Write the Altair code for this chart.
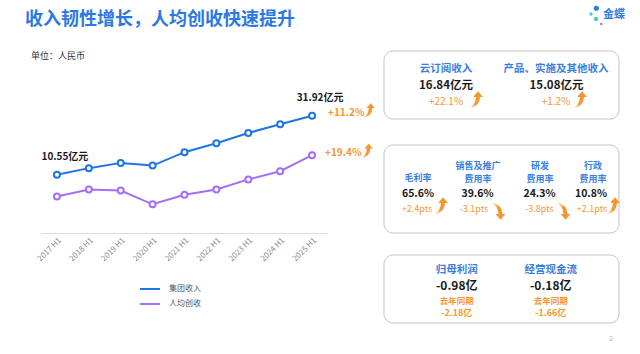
import altair as alt
import pandas as pd

FONT = "Noto Sans CJK SC"
BLUE = "#1f75e6"
PURPLE = "#a46ff6"
ORANGE = "#f7962f"
LABEL_BLUE = "#3a7fe0"
DARK = "#1a1a1a"

# ---------------- data ----------------
periods = ["2017 H1", "2018 H1", "2019 H1", "2020 H1", "2021 H1",
           "2022 H1", "2023 H1", "2024 H1", "2025 H1"]
group_revenue = [10.55, 12.97, 14.87, 13.90, 18.73, 21.97, 25.68, 28.82, 31.92]  # 亿元
per_capita = [17.4, 19.5, 19.2, 15.0, 17.9, 19.5, 22.6, 25.1, 30.0]              # 万元 (est.)
series_names = ["集团收入", "人均创收"]
end_labels = ["10.55亿元", "31.92亿元"]
growth = ["+11.2%", "+19.4%"]

rev_titles = ["云订阅收入", "产品、实施及其他收入"]
rev_values = ["16.84亿元", "15.08亿元"]
rev_growth = ["+22.1%", "+1.2%"]

ratio_titles = [["毛利率"], ["销售及推广", "费用率"], ["研发", "费用率"], ["行政", "费用率"]]
ratio_values = ["65.6%", "39.6%", "24.3%", "10.8%"]
ratio_change = ["+2.4pts", "-3.1pts", "-3.8pts", "+2.1pts"]
ratio_up = [True, False, False, True]

profit_titles = ["归母利润", "经营现金流"]
profit_values = ["-0.98亿", "-0.18亿"]
prior_label = "去年同期"
profit_prior = ["-2.18亿", "-1.66亿"]

title_text = "收入韧性增长，人均创收快速提升"
unit_text = "单位：人民币"
logo_text = "金蝶"
page_no = "2"

# ---------------- layout (pixels) ----------------
OX, OY = 41, 80          # plot-area origin
PW, PH = 287, 153        # plot-area size

UP = "M -0.75 1 Q 0.05 0.6 0.12 -0.35 L -0.22 -0.35 L 0.35 -1 L 0.92 -0.35 L 0.58 -0.35 Q 0.55 0.8 -0.75 1 Z"
DOWN = "M -0.75 -1 Q 0.05 -0.6 0.12 0.35 L -0.22 0.35 L 0.35 1 L 0.92 0.35 L 0.58 0.35 Q 0.55 -0.8 -0.75 -1 Z"
GRAD_UP = alt.LinearGradient(gradient="linear", x1=0, y1=1, x2=0.5, y2=0,
                             stops=[alt.GradientStop(color="#fff3e4", offset=0),
                                    alt.GradientStop(color=ORANGE, offset=0.45)])
GRAD_DOWN = alt.LinearGradient(gradient="linear", x1=0, y1=0, x2=0.5, y2=1,
                               stops=[alt.GradientStop(color="#fff3e4", offset=0),
                                      alt.GradientStop(color=ORANGE, offset=0.45)])


def PX(name):
    return alt.X(f"{name}:Q", scale=None, axis=None)


def PY(name):
    return alt.Y(f"{name}:Q", scale=None, axis=None)


def txt(items, size, color, weight="normal", align="center"):
    d = pd.DataFrame([{"t": t, "x": x - OX, "y": y - OY} for t, x, y in items])
    return alt.Chart(d).mark_text(
        font=FONT, fontSize=size, color=color, fontWeight=weight,
        align=align, baseline="middle"
    ).encode(x=PX("x"), y=PY("y"), text="t:N")


def arrows(items, up, size):
    d = pd.DataFrame([{"x": x - OX, "y": y - OY} for x, y in items])
    return alt.Chart(d).mark_point(
        shape=UP if up else DOWN, size=size, filled=True,
        fill=GRAD_UP if up else GRAD_DOWN, strokeWidth=0, opacity=1
    ).encode(x=PX("x"), y=PY("y"))


# ---------------- line chart ----------------
df = pd.DataFrame({"period": periods, "rev": group_revenue, "pc": per_capita})
x_scale = alt.Scale(type="point", domain=periods, padding=0.5)
x_axis = alt.Axis(title=None, labelAngle=315, labelFont=FONT, labelFontSize=8,
                  labelColor="#8a8a8a", domainColor="#dddddd", ticks=False,
                  grid=False, labelPadding=3)
X_main = alt.X("period:N", scale=x_scale, axis=x_axis)
X_plain = alt.X("period:N", scale=x_scale, axis=None)
Y_rev = alt.Y("rev:Q", scale=alt.Scale(domain=[-10.45, 44.8], zero=False, nice=False), axis=None)
Y_pc = alt.Y("pc:Q", scale=alt.Scale(domain=[6.24, 52.94], zero=False, nice=False), axis=None)

rev_line = alt.Chart(df).mark_line(color=BLUE, strokeWidth=2).encode(x=X_main, y=Y_rev)
rev_pts = alt.Chart(df).mark_point(shape="circle", size=36, filled=True, fill="white",
                                   stroke=BLUE, strokeWidth=2, opacity=1).encode(x=X_plain, y=Y_rev)
pc_line = alt.Chart(df).mark_line(color=PURPLE, strokeWidth=2).encode(x=X_plain, y=Y_pc)
pc_pts = alt.Chart(df).mark_point(shape="circle", size=36, filled=True, fill="white",
                                  stroke=PURPLE, strokeWidth=2, opacity=1).encode(x=X_plain, y=Y_pc)

df_end = df.iloc[[0, -1]].copy()
df_end["label"] = end_labels
end_txt = alt.Chart(df_end).mark_text(font=FONT, fontSize=10, fontWeight="bold", color=DARK,
                                      dx=8, dy=-18).encode(x=X_plain, y=Y_rev, text="label:N")

df_last = df.iloc[[-1]].copy()
df_last["g_rev"] = growth[0]
df_last["g_pc"] = growth[1]
g_rev_txt = alt.Chart(df_last).mark_text(font=FONT, fontSize=10, fontWeight="bold", color=ORANGE,
                                         align="left", dx=16, dy=-2.5).encode(x=X_plain, y=Y_rev, text="g_rev:N")
g_pc_txt = alt.Chart(df_last).mark_text(font=FONT, fontSize=10, fontWeight="bold", color=ORANGE,
                                        align="left", dx=13, dy=-2.5).encode(x=X_plain, y=Y_pc, text="g_pc:N")
g_rev_arr = alt.Chart(df_last).mark_point(shape=UP, size=220, filled=True, fill=GRAD_UP, strokeWidth=0,
                                          opacity=1, xOffset=56, yOffset=-5).encode(x=X_plain, y=Y_rev)
g_pc_arr = alt.Chart(df_last).mark_point(shape=UP, size=220, filled=True, fill=GRAD_UP, strokeWidth=0,
                                         opacity=1, xOffset=54, yOffset=-4).encode(x=X_plain, y=Y_pc)

# legend (manual)
leg = pd.DataFrame({"name": series_names, "c": [BLUE, PURPLE],
                    "x1": [140 - OX] * 2, "x2": [160 - OX] * 2,
                    "tx": [169 - OX] * 2, "y": [289 - OY, 304 - OY]})
leg_lines = alt.Chart(leg).mark_rule(strokeWidth=2).encode(
    x=PX("x1"), x2="x2:Q", y=PY("y"), color=alt.Color("c:N", scale=None))
leg_text = alt.Chart(leg).mark_text(font=FONT, fontSize=8, color="#555555", align="left",
                                    baseline="middle").encode(x=PX("tx"), y=PY("y"), text="name:N")

# ---------------- boxes ----------------
boxes = pd.DataFrame({"x1": [384, 384, 384], "x2": [619, 619, 619],
                      "y1": [51, 145, 255], "y2": [119, 233, 323]})
for c in ["x1", "x2"]:
    boxes[c] = boxes[c] - OX
for c in ["y1", "y2"]:
    boxes[c] = boxes[c] - OY
box_layer = alt.Chart(boxes).mark_rect(fill="white", stroke="#c4c4c4", strokeWidth=1,
                                       cornerRadius=9).encode(
    x=PX("x1"), x2="x2:Q", y=PY("y1"), y2="y2:Q")

rev_cx = [446, 556]
ratio_cx = [418, 478, 540, 593]
val_cx = [418, 477.5, 539.5, 591]
chg_cx = [417, 474, 539.5, 592]
arr_cx = [440, 497.5, 562.5, 612]
prof_cx = [456.7, 550.7]

layers = [box_layer]

# box 1
layers.append(txt([(t, x, 69) for t, x in zip(rev_titles, rev_cx)], 10.5, LABEL_BLUE, "bold"))
layers.append(txt([(t, x, 86) for t, x in zip(rev_values, [446, 556.5])], 11.5, DARK, "bold"))
layers.append(txt([(t, x, 102) for t, x in zip(rev_growth, rev_cx)], 10, ORANGE))
layers.append(arrows([(475, 100), (579, 100)], True, 300))

# box 2
title_items = []
for lines, x in zip(ratio_titles, ratio_cx):
    if len(lines) == 1:
        title_items.append((lines[0], x, 178))
    else:
        title_items.append((lines[0], x, 165.5))
        title_items.append((lines[1], x, 178.5))
layers.append(txt(title_items, 9, LABEL_BLUE, "bold"))
layers.append(txt([(t, x, 193.5) for t, x in zip(ratio_values, val_cx)], 10.5, DARK, "bold"))
layers.append(txt([(t, x, 208.5) for t, x in zip(ratio_change, chg_cx)], 9, ORANGE))
layers.append(arrows([(x, 206) for x, u in zip(arr_cx, ratio_up) if u], True, 300))
layers.append(arrows([(x, 211) for x, u in zip(arr_cx, ratio_up) if not u], False, 300))

# box 3
layers.append(txt([(t, x, 269.5) for t, x in zip(profit_titles, prof_cx)], 10.5, LABEL_BLUE, "bold"))
layers.append(txt([(t, x, 286) for t, x in zip(profit_values, prof_cx)], 12, DARK, "bold"))
layers.append(txt([(prior_label, x, 301) for x in prof_cx], 8.5, ORANGE, "bold"))
layers.append(txt([(t, x, 313) for t, x in zip(profit_prior, prof_cx)], 9, ORANGE, "bold"))

# title, unit, logo, page
layers.append(txt([(title_text, 25, 20)], 18, "#2a78e4", "bold", "left"))
layers.append(txt([(unit_text, 31, 56)], 9, "#333333", "normal", "left"))
layers.append(txt([(logo_text, 603, 15)], 11, "#2f7de1", "bold", "left"))
layers.append(txt([(page_no, 611, 339)], 7, "#8fb3f0"))
dots = pd.DataFrame({"x": [596.3 - OX, 591 - OX, 596 - OX, 601.3 - OX],
                     "y": [8.3 - OY, 14 - OY, 19 - OY, 24 - OY],
                     "s": [26, 11, 15, 6],
                     "c": ["#2a7de1", "#4fc3f7", "#2ec4b6", "#a96cf0"]})
layers.append(alt.Chart(dots).mark_circle(opacity=1).encode(
    x=PX("x"), y=PY("y"), size=alt.Size("s:Q", scale=None), color=alt.Color("c:N", scale=None)))

layers += [leg_lines, leg_text,
           rev_line, pc_line, rev_pts, pc_pts, end_txt,
           g_rev_txt, g_pc_txt, g_rev_arr, g_pc_arr]

chart = alt.layer(*layers).resolve_scale(x="independent", y="independent").properties(
    width=PW, height=PH,
    autosize=alt.AutoSizeParams(type="none"),
    padding={"left": OX, "top": OY, "right": 640 - OX - PW, "bottom": 354 - OY - PH},
    background="white",
).configure_view(stroke=None)

chart.save("out.html", embed_options={"renderer": "svg", "actions": False})
